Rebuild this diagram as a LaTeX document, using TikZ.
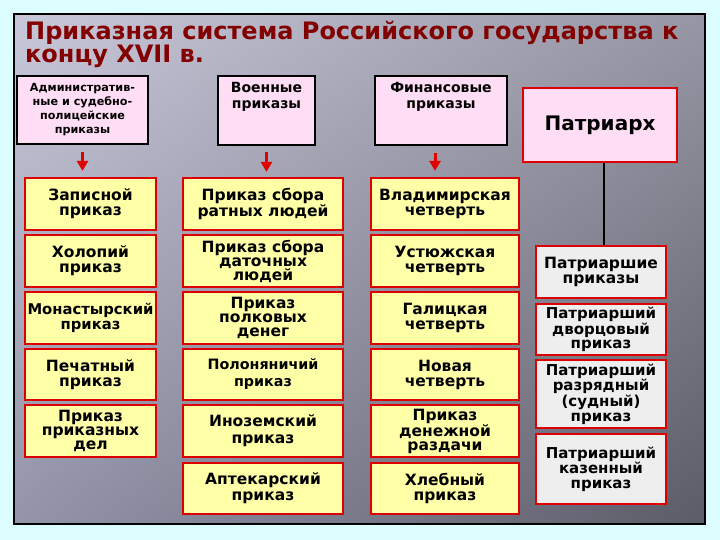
\documentclass[tikz,border=0pt]{standalone}
\usepackage{fontspec}
\setmainfont{DejaVu Sans}
\usetikzlibrary{arrows.meta,shadings}
\definecolor{bgcyan}{HTML}{DCFEFF}
\definecolor{titlered}{HTML}{820000}
\definecolor{boxred}{HTML}{DD0000}
\definecolor{boxyellow}{HTML}{FFFFA8}
\definecolor{boxpink}{HTML}{FFDDF4}
\definecolor{boxgray}{HTML}{EEEEEE}
\definecolor{arrred}{HTML}{E00000}
\definecolor{shUL}{RGB}{200,200,218}
\definecolor{shUR}{RGB}{150,150,164}
\definecolor{shLL}{RGB}{148,148,170}
\definecolor{shLR}{RGB}{92,92,104}
\begin{document}
\begin{tikzpicture}[x=1pt,y=-1pt,
  ybox/.style={draw=boxred, line width=2.2pt, fill=boxyellow, align=center, inner sep=1pt,
    font=\fontsize{15.5}{15}\selectfont\bfseries},
  gbox/.style={ybox, fill=boxgray, font=\fontsize{15.5}{14.5}\selectfont\bfseries},
  hbox/.style={draw=black, line width=2.5pt, fill=boxpink, align=center, inner sep=1pt},
  hlab/.style={anchor=north, align=center, inner sep=0pt, font=\fontsize{14}{16}\selectfont\bfseries},
  colA/.style={minimum width=131pt},
  colB/.style={minimum width=160pt},
  colC/.style={minimum width=148pt},
  colD/.style={minimum width=130pt},
  rowh/.style={minimum height=52pt},
  redarr/.style={draw=arrred, line width=3pt, -{Triangle[width=11pt,length=10pt]}},
  conn/.style={draw=black, line width=1.5pt}
]
\useasboundingbox (0,0) rectangle (720,540);
\fill[bgcyan] (0,0) rectangle (720,540);
\shade[upper left=shUL, upper right=shUR, lower left=shLL, lower right=shLR]
  (14,14) rectangle (705,524);
\draw[line width=1.5pt] (14,14) rectangle (705,524);

% title
\node[anchor=north west, inner sep=0pt, align=left, text=titlered,
      font=\fontsize{24}{23}\selectfont\bfseries] (title) at (25,21)
  {Приказная система Российского государства к\\концу XVII в.};

% header boxes
\node[hbox, minimum width=131pt, minimum height=68pt,
      font=\fontsize{11.2}{14}\selectfont\bfseries] (adm) at (82.5,110)
  {Административ-\\ные и судебно-\\полицейские\\приказы};
\node[hbox, minimum width=97pt, minimum height=69pt,
      label={[hlab, yshift=-7pt]north:{Военные\\приказы}}] (mil) at (266.5,110.5) {};
\node[hbox, minimum width=132pt, minimum height=69pt,
      label={[hlab, yshift=-7pt]north:{Финансовые\\приказы}}] (fin) at (441,110.5) {};
\node[hbox, draw=boxred, minimum width=154pt, minimum height=74pt,
      font=\fontsize{20}{22}\selectfont\bfseries] (pat) at (600,125) {Патриарх};

% column 1
\node[ybox, colA, rowh] (zap) at (90.5,204) {Записной\\приказ};
\node[ybox, colA, rowh] (hol) at (90.5,261) {Холопий\\приказ};
\node[ybox, colA, rowh, font=\fontsize{14.8}{15}\selectfont\bfseries] (mon) at (90.5,318) {Монастырский\\приказ};
\node[ybox, colA, minimum height=51pt] (pec) at (90.5,374.5) {Печатный\\приказ};
\node[ybox, colA, rowh, font=\fontsize{15.5}{14}\selectfont\bfseries] (ppd) at (90.5,431) {Приказ\\приказных\\дел};

% column 2
\node[ybox, colB, rowh] (rat) at (263,204) {Приказ сбора\\ратных людей};
\node[ybox, colB, rowh, font=\fontsize{15.5}{14}\selectfont\bfseries] (dat) at (263,261) {Приказ сбора\\даточных\\людей};
\node[ybox, colB, rowh, font=\fontsize{15.5}{14}\selectfont\bfseries] (pol) at (263,318) {Приказ\\полковых\\денег};
\node[ybox, colB, minimum height=51pt, font=\fontsize{14.3}{17}\selectfont\bfseries] (plo) at (263,374.5) {Полоняничий\\приказ};
\node[ybox, colB, rowh, font=\fontsize{15.5}{17}\selectfont\bfseries] (ino) at (263,431) {Иноземский\\приказ};
\node[ybox, colB, minimum height=51pt, font=\fontsize{15.5}{16}\selectfont\bfseries] (apt) at (263,488.5) {Аптекарский\\приказ};

% column 3
\node[ybox, colC, rowh] (vla) at (445,204) {Владимирская\\четверть};
\node[ybox, colC, rowh] (ust) at (445,261) {Устюжская\\четверть};
\node[ybox, colC, rowh] (gal) at (445,318) {Галицкая\\четверть};
\node[ybox, colC, minimum height=51pt] (nov) at (445,374.5) {Новая\\четверть};
\node[ybox, colC, rowh, font=\fontsize{15.5}{14}\selectfont\bfseries] (den) at (445,431) {Приказ\\денежной\\раздачи};
\node[ybox, colC, minimum height=51pt] (hle) at (445,488.5) {Хлебный\\приказ};

% column 4
\node[gbox, colD, rowh] (pp) at (601,272) {Патриаршие\\приказы};
\node[gbox, colD, minimum height=51pt, font=\fontsize{15}{14.5}\selectfont\bfseries] (pdv) at (601,329.5) {Патриарший\\дворцовый\\приказ};
\node[gbox, colD, minimum height=68pt, font=\fontsize{15}{14.5}\selectfont\bfseries] (prz) at (601,394) {Патриарший\\разрядный\\(судный)\\приказ};
\node[gbox, colD, minimum height=70pt, font=\fontsize{15}{14.5}\selectfont\bfseries] (pkz) at (601,469) {Патриарший\\казенный\\приказ};

% arrows
\coordinate (a1) at (adm.south |- zap.north);
\coordinate (a2) at (mil.south |- rat.north);
\coordinate (a3) at ([xshift=-6pt]fin.south |- vla.north);
\draw[redarr] ([yshift=-7pt]adm.south) -- ([yshift=6pt]a1);
\draw[redarr] ([yshift=-6pt]mil.south) -- ([yshift=5pt]a2);
\draw[redarr] ([xshift=-6pt,yshift=-7pt]fin.south) -- ([yshift=6pt]a3);
\draw[conn] ([xshift=4pt]pat.south) -- ([xshift=4pt]pat.south |- pp.north);
\end{tikzpicture}
\end{document}
